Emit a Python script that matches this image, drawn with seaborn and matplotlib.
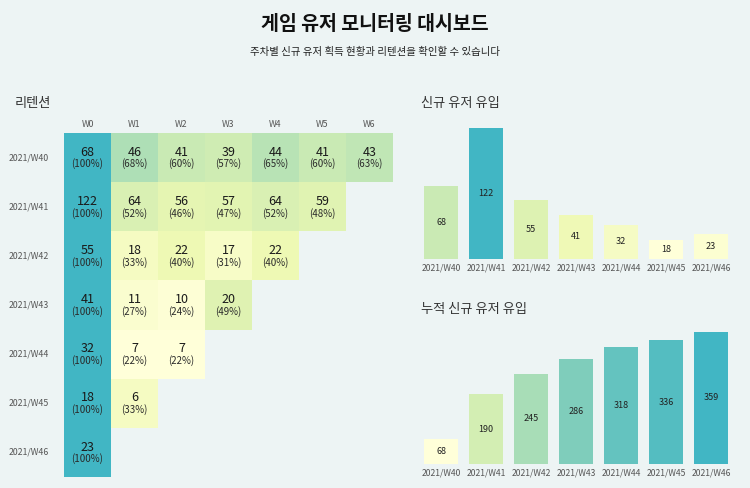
import numpy as np
import pandas as pd
import matplotlib
matplotlib.use("Agg")
import matplotlib.pyplot as plt
import seaborn as sns
from matplotlib.colors import LinearSegmentedColormap, Normalize

# ---------------- data ----------------
cohorts = ["2021/W40", "2021/W41", "2021/W42", "2021/W43", "2021/W44", "2021/W45", "2021/W46"]
weeks = ["W0", "W1", "W2", "W3", "W4", "W5", "W6"]
ret_w40 = [68, 46, 41, 39, 44, 41, 43]
ret_w41 = [122, 64, 56, 57, 64, 59]
ret_w42 = [55, 18, 22, 17, 22]
ret_w43 = [41, 11, 10, 20]
ret_w44 = [32, 7, 7]
ret_w45 = [18, 6]
ret_w46 = [23]
pct_w40 = [100, 68, 60, 57, 65, 60, 63]
pct_w41 = [100, 52, 46, 47, 52, 48]
pct_w42 = [100, 33, 40, 31, 40]
pct_w43 = [100, 27, 24, 49]
pct_w44 = [100, 22, 22]
pct_w45 = [100, 33]
pct_w46 = [100]
new_users = [68, 122, 55, 41, 32, 18, 23]
cum_users = [68, 190, 245, 286, 318, 336, 359]

title = "게임 유저 모니터링 대시보드"
subtitle = "주차별 신규 유저 획득 현황과 리텐션을 확인할 수 있습니다"
t_ret = "리텐션"
t_new = "신규 유저 유입"
t_cum = "누적 신규 유저 유입"

# ---------------- style ----------------
BG = "#edf4f4"
sns.set_theme(style="white")
plt.rcParams["font.family"] = ["Noto Sans CJK KR", "DejaVu Sans"]
plt.rcParams["figure.facecolor"] = BG
plt.rcParams["axes.facecolor"] = BG

cmap = LinearSegmentedColormap.from_list(
    "ylgnbu_part", ["#ffffd9", "#edf8b1", "#c7e9b4", "#7fcdbb", "#41b6c4"])

W, H = 750, 488
fig = plt.figure(figsize=(7.5, 4.88), dpi=100)

def box(x0, y0, x1, y1):
    return [x0 / W, 1 - y1 / H, (x1 - x0) / W, (y1 - y0) / H]

fig.text(375 / W, 1 - 25 / H, title, ha="center", va="center",
         fontsize=14, fontweight="bold", color="#111111")
fig.text(375 / W, 1 - 52 / H, subtitle, ha="center", va="center",
         fontsize=7.5, color="#222222")
fig.text(15 / W, 1 - 104 / H, t_ret, ha="left", va="center", fontsize=9.5, color="#333333")
fig.text(421 / W, 1 - 104 / H, t_new, ha="left", va="center", fontsize=9.5, color="#333333")
fig.text(421 / W, 1 - 310 / H, t_cum, ha="left", va="center", fontsize=9.5, color="#333333")

# ---------------- heatmap ----------------
rets = [ret_w40, ret_w41, ret_w42, ret_w43, ret_w44, ret_w45, ret_w46]
pcts = [pct_w40, pct_w41, pct_w42, pct_w43, pct_w44, pct_w45, pct_w46]
cnt = np.full((len(cohorts), len(weeks)), np.nan)
pct = np.full((len(cohorts), len(weeks)), np.nan)
for i, (r, p) in enumerate(zip(rets, pcts)):
    cnt[i, :len(r)] = r
    pct[i, :len(p)] = p
pct_df = pd.DataFrame(pct, index=cohorts, columns=weeks)

ax = fig.add_axes(box(64, 133, 393, 477))
sns.heatmap(pct_df, ax=ax, cmap=cmap, vmin=np.nanmin(pct), vmax=100,
            cbar=False, annot=False, linewidths=0)
for i in range(len(cohorts)):
    for j in range(len(weeks)):
        if not np.isnan(cnt[i, j]):
            ax.text(j + 0.5, i + 0.39, f"{int(cnt[i, j])}", ha="center", va="center",
                    fontsize=9, color="#1a1a1a")
            ax.text(j + 0.5, i + 0.63, f"({int(pct[i, j])}%)", ha="center", va="center",
                    fontsize=7, color="#2a2a2a")
ax.xaxis.tick_top()
ax.tick_params(axis="both", length=0, labelsize=6.3, colors="#555555")
ax.tick_params(axis="x", pad=3)
ax.tick_params(axis="y", pad=11)
ax.set_yticklabels(cohorts, rotation=0)
ax.set_xticklabels(weeks, rotation=0)
ax.set_xlabel("")
ax.set_ylabel("")
for s in ax.spines.values():
    s.set_visible(False)

# ---------------- bar charts ----------------
def bars(vals, rect, fmt="{}"):
    a = fig.add_axes(rect)
    norm = Normalize(min(vals), max(vals))
    cols = [cmap(norm(v)) for v in vals]
    df = pd.DataFrame({"week": cohorts, "v": vals})
    sns.barplot(data=df, x="week", y="v", hue="week", palette=cols, legend=False,
                width=0.75, ax=a, saturation=1, linewidth=0)
    a.set_ylim(0, max(vals))
    a.set_xlim(-0.5, len(vals) - 0.5)
    for k, v in enumerate(vals):
        a.text(k, v / 2, fmt.format(v), ha="center", va="center", fontsize=6.5,
               color="#222222", fontweight="medium")
    a.set_yticks([])
    a.set_xlabel("")
    a.set_ylabel("")
    a.tick_params(axis="x", length=0, labelsize=6.2, colors="#555555", pad=3)
    for s in a.spines.values():
        s.set_visible(False)
    return a

bars(new_users, box(418.5, 128, 733.5, 259))
bars(cum_users, box(418.5, 332, 733.5, 464))

fig.savefig("out.png", dpi=100, facecolor=BG)
